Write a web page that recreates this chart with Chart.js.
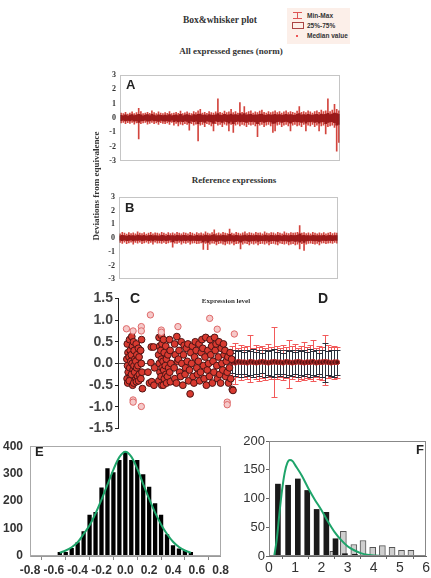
<!DOCTYPE html>
<html>
<head>
<meta charset="utf-8">
<script src="https://cdn.jsdelivr.net/npm/chart.js@4.4.0/dist/chart.umd.min.js"></script>
<style>
  body { margin: 0; width: 431px; height: 578px; background: #fff; position: relative; overflow: hidden; }
  canvas { position: absolute; }
  .t { position: absolute; white-space: nowrap; color: #333; font-family: "Liberation Serif", serif; font-weight: bold; transform: translate(-50%, -50%); z-index: 2; }
  .lt { position: absolute; font-family: "Liberation Sans", Arial, sans-serif; font-weight: bold; color: #222; line-height: 1; z-index: 2; }
  #legend { position: absolute; left: 287px; top: 8px; width: 63px; height: 36px; background: #fcefe9; z-index: 2; }
  .row { position: absolute; left: 20px; font: bold 6.5px "Liberation Sans", sans-serif; color: #333; line-height: 7px; white-space: nowrap; }
  .row i { position: absolute; display: block; }
  .mm { left: -14px; top: 0; width: 9px; height: 5px; border-top: 1px solid #d55; border-bottom: 1px solid #d55; background: linear-gradient(#d55, #d55) center / 1px 100% no-repeat; }
  .bx { left: -15px; top: 0; width: 10px; height: 5px; border: 1px solid #a44; }
  .md { left: -11px; top: 3px; width: 2px; height: 2px; background: #e55; }
</style>
</head>
<body>
<div class="t" style="left:220px;top:20px;font-size:9.5px">Box&amp;whisker plot</div>
<div id="legend">
  <div class="row" style="top:4px"><i class="mm"></i>Min-Max</div>
  <div class="row" style="top:14px"><i class="bx"></i>25%-75%</div>
  <div class="row" style="top:24px"><i class="md"></i>Median value</div>
</div>
<div class="t" style="left:231px;top:51px;font-size:9px">All expressed genes (norm)</div>
<div class="t" style="left:234px;top:180px;font-size:9px">Reference expressions</div>
<div class="t" style="left:96px;top:186px;font-size:9px;transform:translate(-50%,-50%) rotate(-90deg)">Deviations from equivalence</div>
<div class="t" style="left:226px;top:301px;font-size:7px">Expression level</div>
<div class="lt" style="left:126px;top:78px;font-size:13px">A</div>
<div class="lt" style="left:125px;top:201px;font-size:13px">B</div>
<div class="lt" style="left:130px;top:291px;font-size:14px">C</div>
<div class="lt" style="left:318px;top:291px;font-size:14px">D</div>
<div class="lt" style="left:35px;top:445px;font-size:13px">E</div>
<div class="lt" style="left:416px;top:443px;font-size:13px">F</div>

<canvas id="chartA" width="250" height="104" style="left:95px;top:66px"></canvas>
<canvas id="chartB" width="250" height="100" style="left:94px;top:188px"></canvas>
<canvas id="chartCD" width="275" height="151" style="left:70px;top:288px"></canvas>
<canvas id="chartE" width="232" height="146" style="left:0px;top:432px"></canvas>
<canvas id="chartF" width="195" height="146" style="left:236px;top:432px"></canvas>

<script>
// A: all expressed genes, per-gene min/max and quartiles
const aMax = [.35,.3,.4,.28,.35,.42,.3,.38,.68,.45,
  .3,.35,.4,.32,.5,.38,.3,.42,.35,.3,
  .38,.33,.45,.3,.35,.4,.32,.48,.3,.36,
  .42,.35,.3,.45,.38,.5,.6,.35,.4,.32,
  .45,.38,.35,.42,1.33,.4,.35,.48,.38,.42,
  .6,.38,.45,.35,1.07,.4,.8,.38,.45,.5,
  .35,.42,.38,.48,.55,.4,.35,.45,.38,.42,
  .5,.38,.45,.35,.42,.5,.38,.45,.4,.35,
  .48,.8,.4,.45,.38,.5,.42,.35,.45,.5,
  .4,.55,.45,.5,1.33,.45,.55,.95,.6,.5];
const aMin = [-.35,-.3,-.4,-.32,-.38,-.3,-.42,-.35,-1.45,-.4,
  -.35,-.3,-.42,-.38,-.3,-.4,-.35,-.45,-.32,-.38,
  -.4,-.35,-.45,-.3,-.5,-.38,-.55,-.42,-.48,-.4,
  -.45,-.85,-.4,-.5,-.42,-1.6,-.5,-.45,-.6,-.4,
  -.45,-.55,-.9,-.4,-.5,-.45,-.6,-.42,-.5,-.9,
  -.45,-1.0,-.5,-.42,-.55,-.45,-.5,-.6,-.45,-.5,
  -.45,-.55,-1.3,-.5,-.45,-.6,-.5,-.45,-.55,-1.0,
  -.9,-.5,-.45,-.6,-.5,-.45,-.55,-.9,-.5,-.45,
  -.55,-.5,-.6,-.45,-.9,-.5,-.55,-.45,-.6,-.5,
  -.9,-.55,-.5,-1.1,-.6,-.55,-.5,-.65,-2.3,-1.7];
const aQ3 = [.18,.15,.22,.14,.2,.24,.16,.2,.26,.22,
  .15,.2,.23,.17,.25,.2,.15,.22,.18,.16,
  .2,.17,.24,.15,.19,.22,.16,.25,.15,.2,
  .23,.18,.15,.24,.2,.25,.28,.18,.22,.17,
  .24,.2,.18,.22,.3,.21,.18,.25,.2,.22,
  .28,.2,.24,.18,.3,.22,.3,.2,.24,.26,
  .18,.22,.2,.25,.27,.21,.18,.24,.2,.22,
  .26,.2,.24,.18,.22,.26,.2,.24,.21,.18,
  .25,.3,.21,.24,.2,.26,.22,.18,.24,.26,
  .21,.27,.24,.26,.32,.24,.28,.35,.3,.26];
const aQ1 = [-.18,-.15,-.2,-.16,-.2,-.15,-.22,-.18,-.3,-.2,
  -.18,-.15,-.22,-.2,-.15,-.21,-.18,-.24,-.16,-.2,
  -.22,-.18,-.24,-.15,-.26,-.2,-.28,-.22,-.25,-.21,
  -.24,-.35,-.2,-.26,-.22,-.4,-.26,-.24,-.3,-.2,
  -.24,-.28,-.38,-.2,-.26,-.24,-.3,-.22,-.26,-.36,
  -.24,-.4,-.26,-.22,-.28,-.24,-.26,-.3,-.24,-.26,
  -.24,-.28,-.4,-.26,-.24,-.3,-.26,-.24,-.28,-.38,
  -.36,-.26,-.24,-.3,-.26,-.24,-.28,-.36,-.26,-.24,
  -.28,-.26,-.3,-.24,-.36,-.26,-.28,-.24,-.3,-.26,
  -.36,-.28,-.26,-.4,-.3,-.28,-.26,-.32,-.5,-.45];

// B: reference expressions
const bMax = [.3,.42,.35,.28,.4,.33,.38,.3,.45,.35,
  .32,.4,.28,.36,.42,.3,.38,.35,.3,.42,
  .35,.28,.4,.33,.38,.3,.42,.35,.3,.4,
  .36,.3,.42,.35,.28,.4,.33,.38,.3,.45,
  .35,.3,.4,.6,.33,.38,.3,.42,.35,.32,
  .65,.35,.3,.42,.36,.3,.38,.45,.32,.4,
  .35,.3,.42,.36,.38,.3,.45,.35,.32,.4,
  .38,.3,.42,.35,.3,.45,.36,.32,.4,.35,
  .38,.42,.9,.35,.4,.32,.38,.3,.42,.35,
  .3,.38,.33,.4,.3,.36,.42,.32,.38,.35];
const bMin = [-.32,-.4,-.3,-.42,-.35,-.3,-.45,-.33,-.38,-.3,
  -.42,-.35,-.3,-.4,-.33,-.45,-.3,-.38,-.35,-.4,
  -.33,-.42,-.35,-.3,-.67,-.38,-.4,-.33,-.45,-.35,
  -.4,-.33,-.45,-.38,-.35,-.42,-.4,-.35,-.83,-.4,
  -.85,-.45,-.38,-.4,-.5,-.42,-.38,-.45,-.5,-.4,
  -.45,-.38,-.5,-.42,-.4,-.8,-.45,-.38,-.42,-.5,
  -.4,-.45,-.38,-.5,-.42,-.4,-.45,-.38,-.5,-.42,
  -.4,-.45,-.5,-.38,-.42,-.45,-.4,-.5,-.45,-.42,
  -.5,-.45,-.8,-.42,-.9,-.45,-.4,-.38,-.42,-.45,
  -.4,-.5,-.38,-.35,-.42,-.38,-.35,-.4,-.33,-.38];
const bQ3 = [.15,.2,.17,.13,.19,.16,.18,.14,.21,.17,
  .15,.19,.13,.17,.2,.15,.18,.16,.14,.2,
  .17,.13,.19,.16,.18,.14,.2,.17,.15,.19,
  .17,.14,.2,.16,.13,.19,.16,.18,.14,.21,
  .17,.15,.19,.25,.16,.18,.15,.2,.17,.15,
  .26,.17,.15,.2,.17,.14,.18,.21,.15,.19,
  .17,.15,.2,.17,.18,.14,.21,.17,.15,.19,
  .18,.15,.2,.17,.14,.21,.17,.15,.19,.17,
  .18,.2,.3,.17,.19,.15,.18,.14,.2,.17,
  .15,.18,.16,.19,.14,.17,.2,.15,.18,.17];
const bQ1 = [-.15,-.19,-.14,-.2,-.17,-.14,-.21,-.16,-.18,-.14,
  -.2,-.17,-.14,-.19,-.16,-.21,-.14,-.18,-.17,-.19,
  -.16,-.2,-.17,-.14,-.28,-.18,-.19,-.16,-.21,-.17,
  -.19,-.16,-.21,-.18,-.17,-.2,-.19,-.17,-.3,-.19,
  -.32,-.21,-.18,-.19,-.24,-.2,-.18,-.21,-.24,-.19,
  -.21,-.18,-.24,-.2,-.19,-.3,-.21,-.18,-.2,-.24,
  -.19,-.21,-.18,-.24,-.2,-.19,-.21,-.18,-.24,-.2,
  -.19,-.21,-.24,-.18,-.2,-.21,-.19,-.24,-.21,-.2,
  -.24,-.21,-.3,-.2,-.32,-.21,-.19,-.18,-.2,-.21,
  -.19,-.24,-.18,-.17,-.2,-.18,-.17,-.19,-.16,-.18];

// C: expression level scatter (x = position along axis 0..100)
const cX = [4.2,4.5,4.0,4.3,4.6,4.1,4.4,5.2,5.5,5.0,5.3,5.6,5.1,5.8,6.2,6.5,6.0,6.4,6.8,6.1,6.6,7.0,7.3,7.6,7.2,7.5,7.8,7.1,8.2,8.5,8.0,8.4,8.8,8.3,9.2,9.5,9.0,9.6,9.3,10.2,10.5,10.8,10.3,11.0,10.6,
  13.5,14.2,15.0,16.0,15.2,16.2,14.8,16.5,
  18.5,18.8,18.3,18.6,18.9,18.4,19.5,19.8,19.3,19.6,19.9,19.4,19.7,20.5,20.8,20.3,20.6,20.9,20.4,21.5,21.8,21.3,21.6,21.9,22.5,22.8,22.3,23.2,23.5,23.8,23.3,23.6,
  25.5,25.8,25.3,25.6,26.5,26.8,26.3,27.5,27.8,27.2,28.5,28.2,28.8,29.5,29.2,29.8,30.5,30.8,30.2,31.5,31.2,31.8,32.5,32.8,32.2,33.5,33.2,33.8,34.5,34.2,34.8,35.5,35.2,35.8,36.5,36.2,36.8,37.5,37.2,37.8,38.5,38.2,38.8,39.5,39.2,39.8,40.5,40.2,40.8,41.5,41.2,41.8,42.5,42.2,42.8,43.5,43.2,43.8,44.5,44.2,44.8,45.5,45.2,45.8,46.5,46.2,46.8,47.5,47.2,47.8,48.5,48.2,48.8,49.5,49.2,49.8,50.5,50.2,50.8,51.5,51.2,51.8];
const cY = [.45,.25,.1,-.05,-.2,-.35,-.45,.55,.3,.15,-.1,-.3,-.4,.05,.62,.4,.2,0,-.15,-.25,-.5,.5,.3,.1,-.05,-.2,-.38,-.45,.45,.2,.05,-.1,-.3,-.42,.35,.15,-.05,-.25,-.4,.3,0,-.2,-.35,-.58,.55,
  -.2,-.45,.38,.38,-.42,-.5,.02,-.1,
  .6,.4,.2,0,-.2,-.4,.65,.45,.3,.1,-.1,-.3,-.5,.55,.25,.05,-.15,-.35,-.5,.4,.1,-.05,-.25,-.45,.2,-.1,-.3,.55,.3,0,-.2,-.42,
  .45,.2,-.1,-.35,.62,.05,-.45,.3,-.2,.1,.5,-.3,0,.2,-.5,.42,-.1,.35,-.25,.45,.05,-.4,-.7,.25,-.15,.4,0,-.3,.15,-.45,.5,-.1,.3,-.25,.45,.05,-.4,.25,-.2,.55,-.05,.35,-.35,.6,.15,-.5,.3,-.15,0,.55,-.3,.2,-.45,.4,.05,.6,-.2,.3,-.05,.45,-.35,.5,.15,-.25,.35,-.45,0,.45,-.15,.2,-.3,.3,.05,.15,-.2,-.45,.25,-.1,-.35,-.6,.1,-.62];
const cOutX = [3.8,6.8,10.5,10.5,14.6,19.5,19.5,27.0,41.3,44.7,52.4,6.8,6.8,10.5,49.2,49.2];
const cOutY = [.8,.75,.85,.75,1.12,.77,.72,.85,1.04,.79,.68,-.84,-.89,-.99,-.89,-.95];

// D: box & whisker per expression bin
const dX = [51.5,52.8,54.2,55.5,56.9,58.2,59.6,60.9,62.3,63.6,65.0,66.3,67.7,69.0,70.4,71.7,73.1,74.4,75.8,77.1,78.5,79.8,81.2,82.5,83.9,85.2,86.6,87.9,89.3,90.6,92.0,93.3,94.7,96.0,97.4,98.7];
const dRedHi = [0.4,0.48,0.35,0.42,0.38,0.4,0.66,0.36,0.42,0.38,0.4,0.35,0.45,0.38,0.83,0.4,0.36,0.42,0.38,0.55,0.4,0.45,0.36,0.4,0.5,0.38,0.42,0.54,0.36,0.4,0.38,0.66,0.42,0.38,0.4,0.38];
const dRedLo = [-0.35,-0.47,-0.3,-0.38,-0.32,-0.36,-0.43,-0.3,-0.35,-0.4,-0.33,-0.38,-0.32,-0.36,-0.78,-0.35,-0.3,-0.38,-0.34,-0.57,-0.36,-0.32,-0.4,-0.35,-0.38,-0.33,-0.36,-0.4,-0.32,-0.35,-0.38,-0.5,-0.34,-0.3,-0.36,-0.33];
const dBlkHi = [0.25,0.3,0.28,0.32,0.26,0.3,0.28,0.33,0.27,0.3,0.25,0.32,0.28,0.3,0.33,0.27,0.3,0.25,0.32,0.28,0.3,0.26,0.32,0.28,0.3,0.27,0.33,0.28,0.3,0.25,0.32,0.48,0.28,0.3,0.32,0.3];
const dBlkLo = [-0.22,-0.28,-0.25,-0.3,-0.24,-0.28,-0.26,-0.3,-0.25,-0.28,-0.22,-0.3,-0.26,-0.28,-0.3,-0.25,-0.28,-0.24,-0.3,-0.26,-0.28,-0.24,-0.3,-0.26,-0.28,-0.25,-0.3,-0.26,-0.28,-0.24,-0.3,-0.42,-0.26,-0.28,-0.3,-0.27];
const dMed = [0.03,0.02,0.04,0.03,0.03,0.02,0.04,0.03,0.02,0.03,0.04,0.03,0.02,0.03,0.04,0.03,0.03,0.02,0.04,0.03,0.02,0.03,0.04,0.03,0.02,0.03,0.03,0.04,0.02,0.03,0.03,0.04,0.03,0.02,0.03,0.03];

// E: histogram of deviations + fitted normal
const eBins = [-0.55,-0.5,-0.45,-0.4,-0.35,-0.3,-0.25,-0.2,-0.15,-0.1,-0.05,0,0.05,0.1,0.15,0.2,0.25,0.3,0.35,0.4,0.45,0.5,0.55];
const eCounts = [15,15,29,50,90,150,160,250,320,305,350,380,350,350,298,252,192,150,79,39,27,21,15];
const eFitX = [-0.55,-0.5,-0.45,-0.4,-0.35,-0.3,-0.25,-0.2,-0.15,-0.1,-0.05,0,0.05,0.1,0.15,0.2,0.25,0.3,0.35,0.4,0.45,0.5,0.55];
const eFitY = [12,20,32,50,80,112,155,205,260,315,360,380,362,318,262,208,158,115,80,52,33,20,12];

// F: two histograms + fitted curve
const fBlackX = [0.34,0.73,1.10,1.46,1.82,2.19,2.54,2.90,3.28];
const fBlack = [125,123,134,114,81,76,30,4,3];
const fGreyX = [2.44,2.84,3.24,3.59,3.96,4.33,4.70,5.06,5.42];
const fGrey = [8,43,20,27,15,18,15,10,10];
const fFitX = [0.2,0.3,0.4,0.5,0.6,0.7,0.8,0.9,1.0,1.25,1.5,1.75,2.0,2.25,2.5,2.75,3.0,3.25,3.5,3.75,4.0,4.3];
const fFitY = [0,30,75,115,145,162,167,165,158,140,118,98,80,60,42,28,17,10,5,2,1,0];

const SANS = "'Liberation Sans', Arial, sans-serif";
const SERIF = "'Liberation Serif', serif";

const frame = {
  id: "frame",
  afterDraw(chart, args, opts) {
    const { ctx, chartArea: a } = chart;
    ctx.save();
    ctx.strokeStyle = opts.color || "#999";
    ctx.lineWidth = 1;
    ctx.setLineDash(opts.dash || []);
    ctx.strokeRect(Math.round(a.left) + 0.5, Math.round(a.top) + 0.5,
      Math.round(a.right - a.left) - 1, Math.round(a.bottom - a.top) - 1);
    ctx.restore();
  }
};

const errorBars = {
  id: "errorBars",
  beforeDatasetsDraw(chart) {
    const { ctx, scales: { x, y } } = chart;
    const draw = (hi, lo, color, cap) => {
      ctx.strokeStyle = color;
      ctx.beginPath();
      dX.forEach((v, i) => {
        const px = Math.round(x.getPixelForValue(v)) + 0.5;
        const top = Math.round(y.getPixelForValue(hi[i])) + 0.5;
        const bot = Math.round(y.getPixelForValue(lo[i])) + 0.5;
        ctx.moveTo(px, top); ctx.lineTo(px, bot);
        ctx.moveTo(px - cap, top); ctx.lineTo(px + cap, top);
        ctx.moveTo(px - cap, bot); ctx.lineTo(px + cap, bot);
      });
      ctx.stroke();
    };
    ctx.save();
    ctx.lineWidth = 1;
    draw(dRedHi, dRedLo, "#f25a5a", 3);
    draw(dBlkHi, dBlkLo, "#2c303c", 3);
    ctx.restore();
  }
};

function boxChart(id, maxs, mins, q3, q1, pad) {
  new Chart(document.getElementById(id), {
    type: "bar",
    data: {
      labels: maxs.map((_, i) => i + 1),
      datasets: [
        { data: maxs.map((v, i) => [mins[i], v]), backgroundColor: "#d3453e", barThickness: 1, grouped: false, order: 2 },
        { data: q3.map((v, i) => [q1[i], v]), backgroundColor: "#9a1a1a", barPercentage: 1, categoryPercentage: 1, grouped: false, order: 1 }
      ]
    },
    options: {
      responsive: false,
      animation: false,
      layout: { padding: pad },
      plugins: { legend: { display: false }, tooltip: { enabled: false }, frame: { color: "#8a8a8a", dash: [1, 1] } },
      scales: {
        x: { display: false },
        y: {
          min: -3, max: 3,
          ticks: { stepSize: 1, color: "#333", padding: 4, font: { family: SERIF, size: 8, weight: "bold" } },
          grid: { display: false, drawTicks: false },
          border: { display: false },
          afterFit: s => { s.width = 25; }
        }
      }
    },
    plugins: [frame]
  });
}

boxChart("chartA", aMax, aMin, aQ3, aQ1, { top: 6, right: 5, bottom: 5 });
boxChart("chartB", bMax, bMin, bQ3, bQ1, { top: 6, right: 6, bottom: 5 });

new Chart(document.getElementById("chartCD"), {
  type: "scatter",
  data: {
    datasets: [
      { data: dX.map((x, i) => ({ x, y: dMed[i] })), pointRadius: 2.5, backgroundColor: "#5e1515", borderColor: "#c03030", borderWidth: 1, order: 3 },
      { data: cX.map((x, i) => ({ x, y: cY[i] })), pointRadius: 3.4, backgroundColor: "#d83a30", borderColor: "#4d1414", borderWidth: 1, order: 2 },
      { data: cOutX.map((x, i) => ({ x, y: cOutY[i] })), pointRadius: 3.2, backgroundColor: "#f6c9c9", borderColor: "#de6a6a", borderWidth: 1, order: 1 }
    ]
  },
  options: {
    responsive: false,
    animation: false,
    layout: { padding: { top: 9, right: 5, bottom: 7 } },
    plugins: { legend: { display: false }, tooltip: { enabled: false } },
    scales: {
      x: { type: "linear", min: 0, max: 100, display: false },
      y: {
        min: -1.5, max: 1.5,
        ticks: { stepSize: 0.5, padding: 2, color: "#444", callback: v => v.toFixed(1), font: { family: SANS, size: 14, weight: "bold" } },
        grid: { color: c => (c.tick && c.tick.value === 0 ? "#555" : "rgba(0,0,0,0)"), tickColor: "#222", tickLength: 3 },
        border: { color: "#222" },
        afterFit: s => { s.width = 48; }
      }
    }
  },
  plugins: [errorBars]
});

new Chart(document.getElementById("chartE"), {
  type: "bar",
  data: {
    datasets: [
      { type: "line", data: eFitX.map((x, i) => ({ x, y: eFitY[i] })), borderColor: "#1ea46a", borderWidth: 2, pointRadius: 0, cubicInterpolationMode: "monotone", order: 0 },
      { data: eBins.map((x, i) => ({ x, y: eCounts[i] })), backgroundColor: "#000", barPercentage: 0.72, categoryPercentage: 1, order: 1 }
    ]
  },
  options: {
    responsive: false,
    animation: false,
    layout: { padding: { top: 9, right: 5 } },
    plugins: { legend: { display: false }, tooltip: { enabled: false }, frame: { color: "#aaa" } },
    scales: {
      x: {
        type: "linear", min: -0.8, max: 0.8, offset: false,
        ticks: { stepSize: 0.2, padding: 3, color: "#333", autoSkip: false, maxRotation: 0,
          callback: v => (Math.abs(v) < 1e-9 ? 0 : v).toFixed(1), font: { family: SANS, size: 12, weight: "bold" } },
        grid: { drawOnChartArea: false, tickLength: 4, tickColor: "#888" },
        border: { color: "#999" },
        afterFit: s => { s.height = 22; }
      },
      y: {
        min: 0, max: 400,
        ticks: { stepSize: 100, padding: 7, color: "#333", font: { family: SANS, size: 12, weight: "bold" } },
        grid: { display: false, drawTicks: false },
        border: { color: "#aaa" },
        afterFit: s => { s.width = 30; }
      }
    }
  },
  plugins: [frame]
});

new Chart(document.getElementById("chartF"), {
  type: "bar",
  data: {
    datasets: [
      { type: "line", data: fFitX.map((x, i) => ({ x, y: fFitY[i] })), borderColor: "#1ea46a", borderWidth: 2, pointRadius: 0, cubicInterpolationMode: "monotone", order: 0 },
      { data: fBlackX.map((x, i) => ({ x, y: fBlack[i] })), backgroundColor: "#1a1a1a", barThickness: 5, grouped: false, order: 1 },
      { data: fGreyX.map((x, i) => ({ x, y: fGrey[i] })), backgroundColor: "#cfcfcf", borderColor: "#555", borderWidth: 1, barThickness: 6, grouped: false, order: 2 }
    ]
  },
  options: {
    responsive: false,
    animation: false,
    layout: { padding: { top: 9, right: 4 } },
    plugins: { legend: { display: false }, tooltip: { enabled: false }, frame: { color: "#888" } },
    scales: {
      x: {
        type: "linear", min: 0, max: 6, offset: false,
        ticks: { stepSize: 1, padding: 1, color: "#333", font: { family: SANS, size: 14 } },
        grid: { drawOnChartArea: false, tickLength: 3, tickColor: "#666" },
        border: { color: "#666" },
        afterFit: s => { s.height = 22; }
      },
      y: {
        min: 0, max: 200,
        ticks: { stepSize: 50, padding: 1, color: "#333", font: { family: SANS, size: 13 } },
        grid: { drawOnChartArea: false, tickLength: 3, tickColor: "#666" },
        border: { color: "#666" },
        afterFit: s => { s.width = 33; }
      }
    }
  },
  plugins: [frame]
});
</script>
</body>
</html>
